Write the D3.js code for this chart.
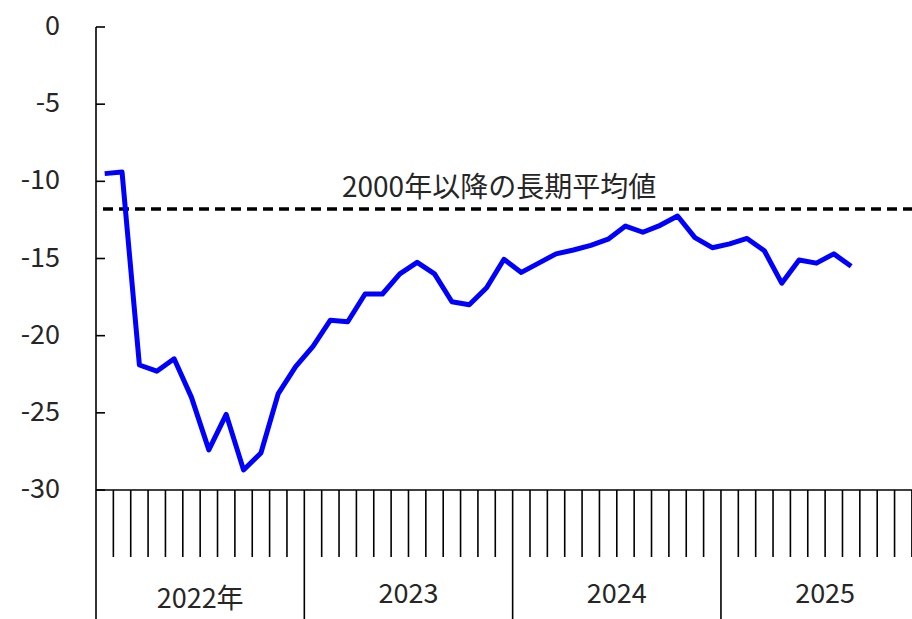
<!DOCTYPE html>
<html>
<head>
<meta charset="utf-8">
<script src="https://cdn.jsdelivr.net/npm/d3@7"></script>
<style>
  html, body { margin: 0; padding: 0; background: #fff; overflow: hidden; }
  svg { display: block; }
  text { font-family: "Noto Sans CJK JP", "Noto Sans", sans-serif; fill: #262626; }
</style>
</head>
<body>
<svg></svg>
<script>
// data (monthly, Jan 2022 - Aug 2025)
const years = [2022, 2023, 2024, 2025];
const yearLabels = ['2022年', '2023', '2024', '2025'];
const values = [
  -9.5, -9.4, -21.9, -22.3, -21.5, -24.0, -27.4, -25.1, -28.7, -27.6, -23.75, -22.0,
  -20.7, -19.0, -19.1, -17.3, -17.3, -16.0, -15.25, -16.0, -17.8, -18.0, -16.9, -15.05,
  -15.9, -15.3, -14.7, -14.45, -14.15, -13.75, -12.9, -13.3, -12.85, -12.25, -13.65, -14.3,
  -14.05, -13.7, -14.5, -16.6, -15.1, -15.3, -14.7, -15.5
];
const longTermAvg = -11.8;
const avgLabel = '2000年以降の長期平均値';
const yTicks = [0, -5, -10, -15, -20, -25, -30];

const width = 912, height = 619;
const margin = { top: 27, left: 96, axisY: 490, monthTick: 557 };

// month keys for the band scale
const months = [];
years.forEach((y) => { for (let m = 1; m <= 12; m++) months.push(y + '-' + m); });

const svg = d3.select('svg')
  .attr('width', width)
  .attr('height', height);

// the plot is wider than the window, last month falls off the right edge
const x = d3.scaleBand().domain(months).range([margin.left, margin.left + 48 * 17.36]);
const y = d3.scaleLinear().domain([0, -30]).range([margin.top, margin.axisY]);

// Y axis: line, inward ticks, labels
svg.append('line')
  .attr('x1', margin.left).attr('x2', margin.left)
  .attr('y1', y(0)).attr('y2', height)
  .attr('stroke', '#000').attr('stroke-width', 1.6);

svg.selectAll('.ytick')
  .data(yTicks)
  .enter().append('line')
    .attr('class', 'ytick')
    .attr('x1', margin.left).attr('x2', margin.left + 9)
    .attr('y1', (d) => y(d)).attr('y2', (d) => y(d))
    .attr('stroke', '#000').attr('stroke-width', 1.6);

svg.selectAll('.ylabel')
  .data(yTicks)
  .enter().append('text')
    .attr('class', 'ylabel')
    .attr('x', 60)
    .attr('y', (d) => y(d))
    .attr('dy', '0.3em')
    .attr('text-anchor', 'end')
    .style('font-size', '27px')
    .text((d) => d);

// X axis line
svg.append('line')
  .attr('x1', margin.left).attr('x2', width)
  .attr('y1', y(-30)).attr('y2', y(-30))
  .attr('stroke', '#000').attr('stroke-width', 1.6);

// month ticks
svg.selectAll('.mtick')
  .data(months.filter((d, i) => i % 12 !== 0))
  .enter().append('line')
    .attr('class', 'mtick')
    .attr('x1', (d) => x(d)).attr('x2', (d) => x(d))
    .attr('y1', y(-30)).attr('y2', margin.monthTick)
    .attr('stroke', '#000').attr('stroke-width', 1.6);

// year separators
svg.selectAll('.ytick2')
  .data(years.slice(1))
  .enter().append('line')
    .attr('class', 'ytick2')
    .attr('x1', (d) => x(d + '-1')).attr('x2', (d) => x(d + '-1'))
    .attr('y1', y(-30)).attr('y2', height)
    .attr('stroke', '#000').attr('stroke-width', 1.6);

// year labels (the one with 年 sits a little lower, like the original)
svg.selectAll('.yearlabel')
  .data(years)
  .enter().append('text')
    .attr('class', 'yearlabel')
    .attr('x', (d) => x(d + '-1') + x.step() * 6)
    .attr('y', (d, i) => yearLabels[i].includes('年') ? 608 : 603)
    .attr('text-anchor', 'middle')
    .style('font-size', '27px')
    .text((d, i) => yearLabels[i]);

// long term average
svg.append('line')
  .attr('x1', x(months[0]) + 7).attr('x2', width)
  .attr('y1', y(longTermAvg)).attr('y2', y(longTermAvg))
  .attr('stroke', '#000')
  .attr('stroke-width', 3.5)
  .attr('stroke-dasharray', '10,6');

svg.append('text')
  .attr('x', 342)
  .attr('y', y(longTermAvg) - 12)
  .style('font-size', '28px')
  .text(avgLabel);

// the series
const line = d3.line()
  .x((d, i) => x(months[i]) + x.bandwidth() / 2)
  .y((d) => y(d));

svg.append('path')
  .datum(values)
  .attr('fill', 'none')
  .attr('stroke', '#0000ff')
  .attr('stroke-width', 5)
  .attr('stroke-linejoin', 'round')
  .attr('d', line);
</script>
</body>
</html>
